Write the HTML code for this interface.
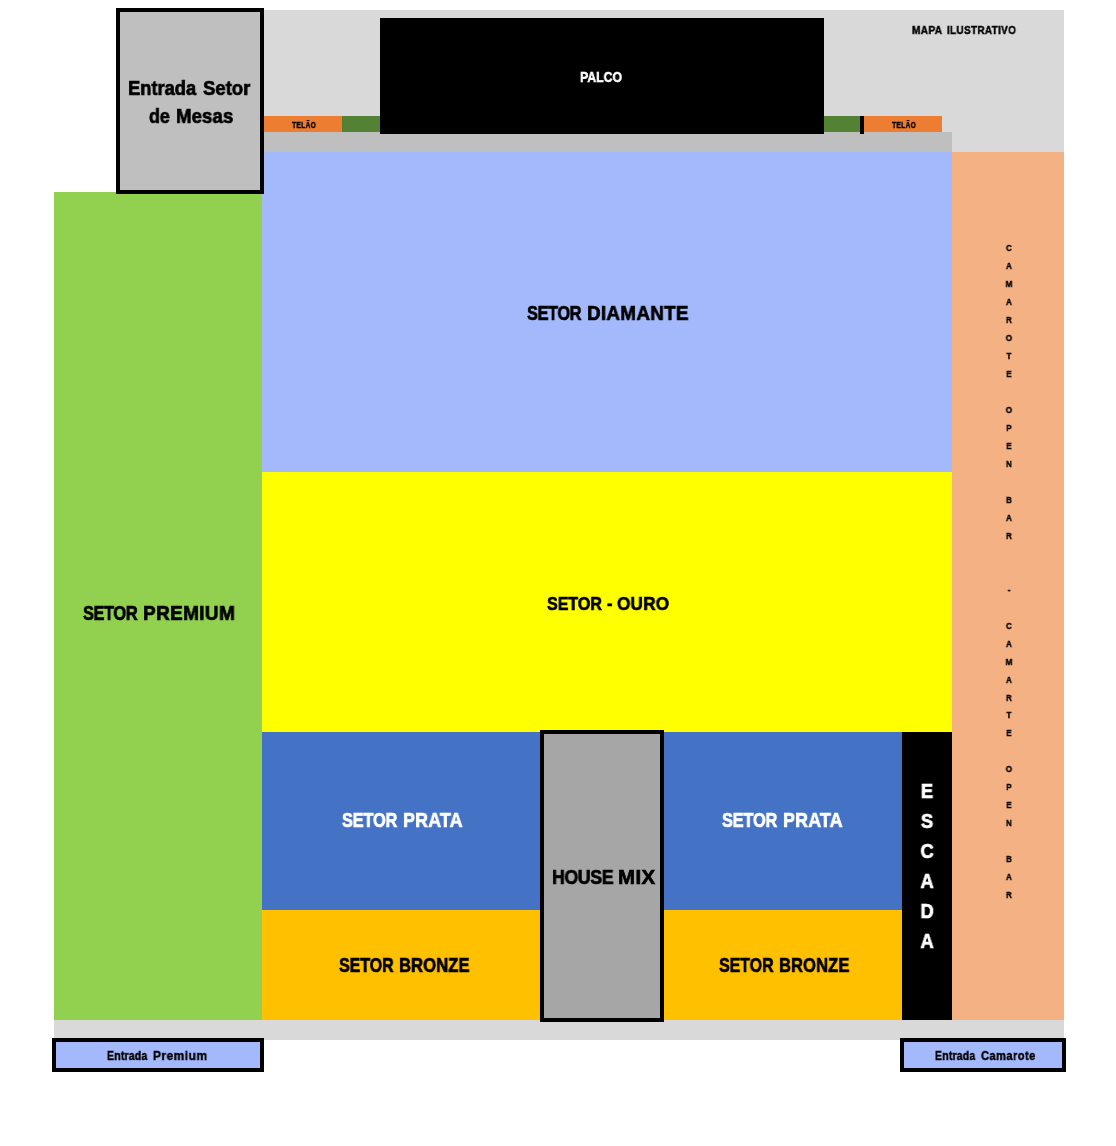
<!DOCTYPE html>
<html><head><meta charset="utf-8"><style>
html,body{margin:0;padding:0;background:#fff;}
body{width:1116px;height:1146px;position:relative;overflow:hidden;font-family:"Liberation Sans",sans-serif;}
.r{position:absolute;}
.t{position:absolute;z-index:2;-webkit-text-stroke:max(0.035em,0.45px) currentColor;will-change:transform;white-space:nowrap;font-weight:bold;line-height:1;transform-origin:0 0;}
.v{position:absolute;z-index:2;-webkit-text-stroke:max(0.035em,0.45px) currentColor;will-change:transform;font-weight:bold;text-align:center;}
</style></head><body>
<div class="v" style="left:907px;width:40px;top:780.77px;font-size:20.35px;line-height:20.35px;color:#fff;transform:scaleX(0.9)">E</div>
<div class="v" style="left:907px;width:40px;top:810.77px;font-size:20.35px;line-height:20.35px;color:#fff;transform:scaleX(0.9)">S</div>
<div class="v" style="left:907px;width:40px;top:840.77px;font-size:20.35px;line-height:20.35px;color:#fff;transform:scaleX(0.9)">C</div>
<div class="v" style="left:907px;width:40px;top:870.77px;font-size:20.35px;line-height:20.35px;color:#fff;transform:scaleX(0.9)">A</div>
<div class="v" style="left:907px;width:40px;top:900.77px;font-size:20.35px;line-height:20.35px;color:#fff;transform:scaleX(0.9)">D</div>
<div class="v" style="left:907px;width:40px;top:930.77px;font-size:20.35px;line-height:20.35px;color:#fff;transform:scaleX(0.9)">A</div>
<div class="v" style="left:989.2px;width:40px;top:243.25px;font-size:9.45px;line-height:9.45px;color:#000;transform:scaleX(0.85)">C</div>
<div class="v" style="left:989.2px;width:40px;top:261.22px;font-size:9.45px;line-height:9.45px;color:#000;transform:scaleX(0.85)">A</div>
<div class="v" style="left:989.2px;width:40px;top:279.19px;font-size:9.45px;line-height:9.45px;color:#000;transform:scaleX(0.85)">M</div>
<div class="v" style="left:989.2px;width:40px;top:297.16px;font-size:9.45px;line-height:9.45px;color:#000;transform:scaleX(0.85)">A</div>
<div class="v" style="left:989.2px;width:40px;top:315.13px;font-size:9.45px;line-height:9.45px;color:#000;transform:scaleX(0.85)">R</div>
<div class="v" style="left:989.2px;width:40px;top:333.10px;font-size:9.45px;line-height:9.45px;color:#000;transform:scaleX(0.85)">O</div>
<div class="v" style="left:989.2px;width:40px;top:351.07px;font-size:9.45px;line-height:9.45px;color:#000;transform:scaleX(0.85)">T</div>
<div class="v" style="left:989.2px;width:40px;top:369.04px;font-size:9.45px;line-height:9.45px;color:#000;transform:scaleX(0.85)">E</div>
<div class="v" style="left:989.2px;width:40px;top:404.98px;font-size:9.45px;line-height:9.45px;color:#000;transform:scaleX(0.85)">O</div>
<div class="v" style="left:989.2px;width:40px;top:422.95px;font-size:9.45px;line-height:9.45px;color:#000;transform:scaleX(0.85)">P</div>
<div class="v" style="left:989.2px;width:40px;top:440.92px;font-size:9.45px;line-height:9.45px;color:#000;transform:scaleX(0.85)">E</div>
<div class="v" style="left:989.2px;width:40px;top:458.89px;font-size:9.45px;line-height:9.45px;color:#000;transform:scaleX(0.85)">N</div>
<div class="v" style="left:989.2px;width:40px;top:494.83px;font-size:9.45px;line-height:9.45px;color:#000;transform:scaleX(0.85)">B</div>
<div class="v" style="left:989.2px;width:40px;top:512.80px;font-size:9.45px;line-height:9.45px;color:#000;transform:scaleX(0.85)">A</div>
<div class="v" style="left:989.2px;width:40px;top:530.77px;font-size:9.45px;line-height:9.45px;color:#000;transform:scaleX(0.85)">R</div>
<div class="v" style="left:989.2px;width:40px;top:584.68px;font-size:9.45px;line-height:9.45px;color:#000;transform:scaleX(0.85)">-</div>
<div class="v" style="left:989.2px;width:40px;top:620.62px;font-size:9.45px;line-height:9.45px;color:#000;transform:scaleX(0.85)">C</div>
<div class="v" style="left:989.2px;width:40px;top:638.59px;font-size:9.45px;line-height:9.45px;color:#000;transform:scaleX(0.85)">A</div>
<div class="v" style="left:989.2px;width:40px;top:656.56px;font-size:9.45px;line-height:9.45px;color:#000;transform:scaleX(0.85)">M</div>
<div class="v" style="left:989.2px;width:40px;top:674.53px;font-size:9.45px;line-height:9.45px;color:#000;transform:scaleX(0.85)">A</div>
<div class="v" style="left:989.2px;width:40px;top:692.50px;font-size:9.45px;line-height:9.45px;color:#000;transform:scaleX(0.85)">R</div>
<div class="v" style="left:989.2px;width:40px;top:710.47px;font-size:9.45px;line-height:9.45px;color:#000;transform:scaleX(0.85)">T</div>
<div class="v" style="left:989.2px;width:40px;top:728.44px;font-size:9.45px;line-height:9.45px;color:#000;transform:scaleX(0.85)">E</div>
<div class="v" style="left:989.2px;width:40px;top:764.38px;font-size:9.45px;line-height:9.45px;color:#000;transform:scaleX(0.85)">O</div>
<div class="v" style="left:989.2px;width:40px;top:782.35px;font-size:9.45px;line-height:9.45px;color:#000;transform:scaleX(0.85)">P</div>
<div class="v" style="left:989.2px;width:40px;top:800.32px;font-size:9.45px;line-height:9.45px;color:#000;transform:scaleX(0.85)">E</div>
<div class="v" style="left:989.2px;width:40px;top:818.29px;font-size:9.45px;line-height:9.45px;color:#000;transform:scaleX(0.85)">N</div>
<div class="v" style="left:989.2px;width:40px;top:854.23px;font-size:9.45px;line-height:9.45px;color:#000;transform:scaleX(0.85)">B</div>
<div class="v" style="left:989.2px;width:40px;top:872.20px;font-size:9.45px;line-height:9.45px;color:#000;transform:scaleX(0.85)">A</div>
<div class="v" style="left:989.2px;width:40px;top:890.17px;font-size:9.45px;line-height:9.45px;color:#000;transform:scaleX(0.85)">R</div>
<div class="r" style="left:264px;top:10px;width:800px;height:142px;background:#D9D9D9"></div>
<div class="r" style="left:54px;top:1020px;width:1010px;height:20px;background:#D9D9D9"></div>
<div class="r" style="left:264px;top:132px;width:688px;height:20px;background:#BFBFBF"></div>
<div class="r" style="left:380px;top:18px;width:444px;height:116px;background:#000000"></div>
<div class="r" style="left:264px;top:116px;width:78px;height:16px;background:#ED7D31"></div>
<div class="r" style="left:342px;top:116px;width:38px;height:16px;background:#548235"></div>
<div class="r" style="left:824px;top:116px;width:36px;height:16px;background:#548235"></div>
<div class="r" style="left:860px;top:116px;width:4px;height:18px;background:#000000"></div>
<div class="r" style="left:864px;top:116px;width:78px;height:16px;background:#ED7D31"></div>
<div class="r" style="left:262px;top:152px;width:690px;height:320px;background:#A4B9FC"></div>
<div class="r" style="left:262px;top:472px;width:690px;height:260px;background:#FFFF00"></div>
<div class="r" style="left:262px;top:732px;width:278px;height:178px;background:#4472C4"></div>
<div class="r" style="left:662px;top:732px;width:240px;height:178px;background:#4472C4"></div>
<div class="r" style="left:262px;top:910px;width:278px;height:110px;background:#FFC000"></div>
<div class="r" style="left:662px;top:910px;width:240px;height:110px;background:#FFC000"></div>
<div class="r" style="left:902px;top:732px;width:50px;height:288px;background:#000000"></div>
<div class="r" style="left:952px;top:152px;width:112px;height:868px;background:#F4B183"></div>
<div class="r" style="left:54px;top:192px;width:208px;height:828px;background:#92D050"></div>
<div class="r" style="left:116px;top:8px;width:140px;height:178px;background:#BFBFBF;border:4px solid #000"></div>
<div class="r" style="left:540px;top:730px;width:116px;height:284px;background:#A6A6A6;border:4px solid #000"></div>
<div class="r" style="left:52px;top:1038px;width:204px;height:26px;background:#A4B9FC;border:4px solid #000"></div>
<div class="r" style="left:900px;top:1038px;width:158px;height:26px;background:#A4B9FC;border:4px solid #000"></div>
<div class="t" style="left:912.19px;top:24.15px;font-size:11.63px;color:#000;letter-spacing:0.425px;transform:scaleX(0.8665)">MAPA</div>
<div class="t" style="left:947.09px;top:24.15px;font-size:11.63px;color:#000;letter-spacing:0.383px;transform:scaleX(0.8554)">ILUSTRATIVO</div>
<div class="t" style="left:580.43px;top:68.83px;font-size:15.55px;color:#fff;letter-spacing:0.000px;transform:scaleX(0.7873)">PALCO</div>
<div class="t" style="left:128.40px;top:78.84px;font-size:19.91px;color:#000;letter-spacing:-0.018px;transform:scaleX(0.9205)">Entrada</div>
<div class="t" style="left:203.12px;top:78.84px;font-size:19.91px;color:#000;letter-spacing:0.019px;transform:scaleX(0.9286)">Setor</div>
<div class="t" style="left:149.11px;top:106.84px;font-size:19.91px;color:#000;letter-spacing:-0.156px;transform:scaleX(0.8987)">de</div>
<div class="t" style="left:176.49px;top:106.84px;font-size:19.91px;color:#000;letter-spacing:0.098px;transform:scaleX(0.9346)">Mesas</div>
<div class="t" style="left:292.26px;top:120.65px;font-size:9.16px;color:#000;letter-spacing:0.400px;transform:scaleX(0.7292)">TELÃO</div>
<div class="t" style="left:892.26px;top:120.65px;font-size:9.16px;color:#000;letter-spacing:0.400px;transform:scaleX(0.7292)">TELÃO</div>
<div class="t" style="left:526.79px;top:302.77px;font-size:20.35px;color:#000;letter-spacing:-0.428px;transform:scaleX(0.8017)">SETOR</div>
<div class="t" style="left:586.81px;top:302.77px;font-size:20.35px;color:#000;letter-spacing:0.351px;transform:scaleX(0.9239)">DIAMANTE</div>
<div class="t" style="left:82.89px;top:602.57px;font-size:20.35px;color:#000;letter-spacing:-0.450px;transform:scaleX(0.8042)">SETOR</div>
<div class="t" style="left:143.00px;top:602.57px;font-size:20.35px;color:#000;letter-spacing:0.383px;transform:scaleX(0.9334)">PREMIUM</div>
<div class="t" style="left:546.78px;top:594.16px;font-size:19.19px;color:#000;letter-spacing:-0.169px;transform:scaleX(0.8429)">SETOR</div>
<div class="t" style="left:606.59px;top:594.16px;font-size:19.19px;color:#000;letter-spacing:0.000px;transform:scaleX(0.8544)">-</div>
<div class="t" style="left:617.40px;top:594.16px;font-size:19.19px;color:#000;letter-spacing:0.194px;transform:scaleX(0.8954)">OURO</div>
<div class="t" style="left:342.39px;top:810.12px;font-size:20.64px;color:#fff;letter-spacing:-0.258px;transform:scaleX(0.7932)">SETOR</div>
<div class="t" style="left:403.05px;top:810.12px;font-size:20.64px;color:#fff;letter-spacing:0.238px;transform:scaleX(0.8639)">PRATA</div>
<div class="t" style="left:722.39px;top:810.12px;font-size:20.64px;color:#fff;letter-spacing:-0.258px;transform:scaleX(0.7932)">SETOR</div>
<div class="t" style="left:783.05px;top:810.12px;font-size:20.64px;color:#fff;letter-spacing:0.238px;transform:scaleX(0.8639)">PRATA</div>
<div class="t" style="left:552.21px;top:867.89px;font-size:19.62px;color:#000;letter-spacing:-0.422px;transform:scaleX(0.9046)">HOUSE</div>
<div class="t" style="left:618.41px;top:867.89px;font-size:19.62px;color:#000;letter-spacing:0.400px;transform:scaleX(1.0434)">MIX</div>
<div class="t" style="left:338.98px;top:955.86px;font-size:19.77px;color:#000;letter-spacing:-0.095px;transform:scaleX(0.8121)">SETOR</div>
<div class="t" style="left:399.25px;top:955.86px;font-size:19.77px;color:#000;letter-spacing:0.092px;transform:scaleX(0.8397)">BRONZE</div>
<div class="t" style="left:718.88px;top:955.83px;font-size:19.33px;color:#000;letter-spacing:-0.099px;transform:scaleX(0.8279)">SETOR</div>
<div class="t" style="left:779.23px;top:955.83px;font-size:19.33px;color:#000;letter-spacing:0.095px;transform:scaleX(0.8575)">BRONZE</div>
<div class="t" style="left:106.88px;top:1049.12px;font-size:13.08px;color:#000;letter-spacing:0.223px;transform:scaleX(0.8045)">Entrada</div>
<div class="t" style="left:153.11px;top:1049.12px;font-size:13.08px;color:#000;letter-spacing:0.590px;transform:scaleX(0.9068)">Premium</div>
<div class="t" style="left:934.78px;top:1050.15px;font-size:12.94px;color:#000;letter-spacing:0.305px;transform:scaleX(0.8046)">Entrada</div>
<div class="t" style="left:980.59px;top:1050.15px;font-size:12.94px;color:#000;letter-spacing:0.496px;transform:scaleX(0.8588)">Camarote</div>

</body></html>
